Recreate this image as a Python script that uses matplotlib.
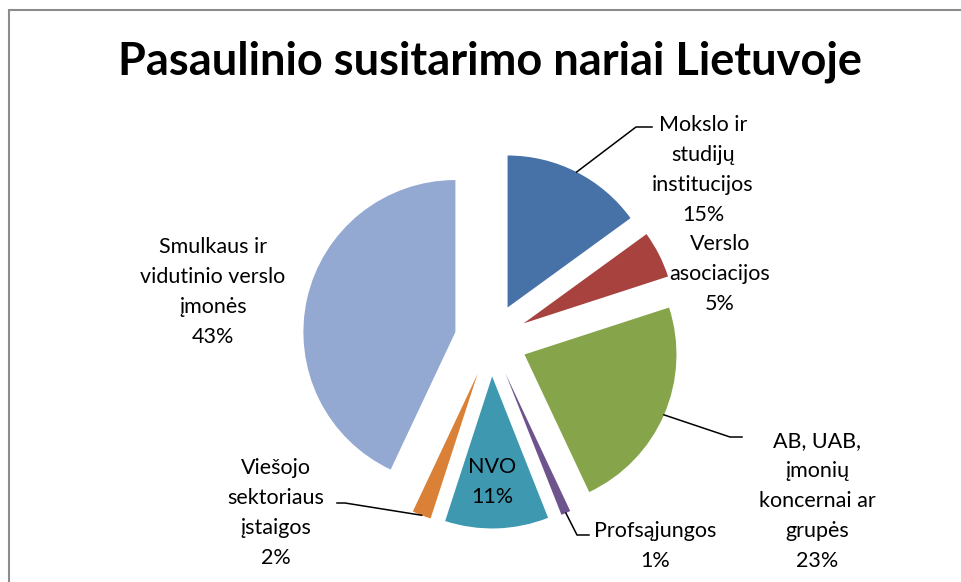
import matplotlib
matplotlib.use("Agg")
import matplotlib.pyplot as plt
from matplotlib.patches import Rectangle
import numpy as np

plt.rcParams['font.family'] = ['Lato', 'DejaVu Sans']

labels = ["Mokslo ir\nstudijų\ninstitucijos", "Verslo\nasociacijos",
          "AB, UAB,\nįmonių\nkoncernai ar\ngrupės", "Profsąjungos",
          "NVO", "Viešojo\nsektoriaus\nįstaigos", "Smulkaus ir\nvidutinio verslo\nįmonės"]
shares = [15, 5, 23, 1, 11, 2, 43]
colors = ["#4672A8", "#A8423F", "#86A44A", "#6E548D", "#3E98B0", "#DA8137", "#93A9D1"]

W, H = 961, 582
CX, CY, R = 491, 340, 152   # pie centre / radius in pixels


def px(x, y):
    return (x - CX) / R, (CY - y) / R


fig = plt.figure(figsize=(W / 100, H / 100), dpi=100)
ax = fig.add_axes([0, 0, 1, 1])
wedges, _ = ax.pie(shares, colors=colors, startangle=90, counterclock=False,
                   explode=[0.24] * len(shares), radius=1,
                   wedgeprops=dict(linewidth=0))
ax.set_aspect('auto')
ax.set_xlim(px(0, 0)[0], px(W, 0)[0])
ax.set_ylim(px(0, H)[1], px(0, 0)[1])
ax.axis('off')

# chart frame
fig.add_artist(Rectangle((9 / W, -0.1), 2, 1.1 - 10 / H, transform=fig.transFigure,
                         fill=False, edgecolor="#8c8c8c", lw=1.5))

fig.text(489.5 / W, 1 - 62 / H, "Pasaulinio susitarimo nariai Lietuvoje",
         ha="center", va="center", fontsize=32.5, fontweight="bold")

# label positions (pixels) and optional leader line elbows
lab_pos = [(703, 170), (720, 274), (817, 501), (655, 546), (492, 482), (276, 513), (213, 292)]
elbows = [[(636, 127), (652, 127)], None, [(730, 437), (742, 437)],
          [(577, 535), (589, 535)], None, [(345, 503), (337, 503)], None]

for w, lab, v, pos, elb in zip(wedges, labels, shares, lab_pos, elbows):
    x, y = px(*pos)
    ax.text(x, y, f"{lab}\n{v}%", ha="center", va="center", fontsize=15.5,
            linespacing=1.62)
    if elb:
        th = np.deg2rad((w.theta1 + w.theta2) / 2)
        sx = w.center[0] + w.r * np.cos(th)
        sy = w.center[1] + w.r * np.sin(th)
        pts = [(sx, sy)] + [px(*p) for p in elb]
        ax.plot([p[0] for p in pts], [p[1] for p in pts], color="black", lw=1.1)

fig.savefig("out.png", dpi=100)
